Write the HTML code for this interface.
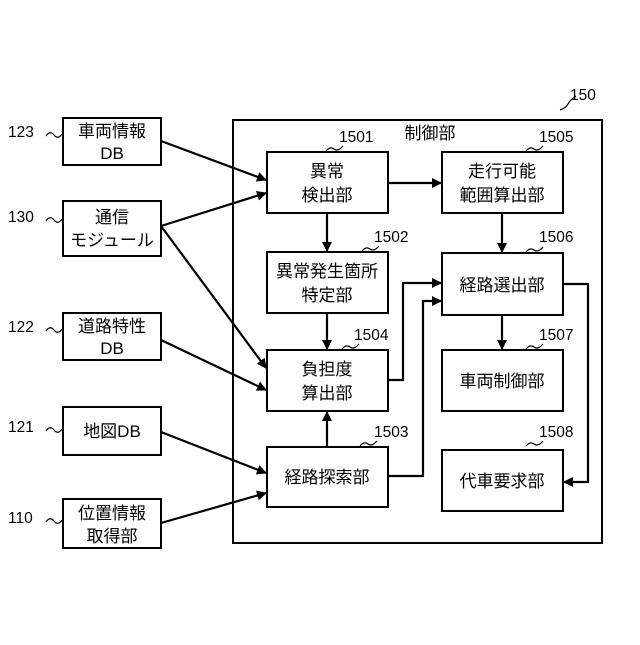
<!DOCTYPE html>
<html><head><meta charset="utf-8"><style>
body{margin:0;background:#fff}
svg text{font-family:"Liberation Sans","Noto Sans CJK JP",sans-serif;fill:#000}
</style></head><body>
<svg width="640" height="640" viewBox="0 0 640 640" xmlns="http://www.w3.org/2000/svg">
<defs><marker id="a" markerWidth="10" markerHeight="10" refX="9" refY="5" orient="auto" markerUnits="userSpaceOnUse"><path d="M0,0 L10,5 L0,10 z" fill="#000"/></marker></defs>
<g fill="none" stroke="#000" stroke-width="2">
<rect x="233" y="120" width="369" height="423"/>
<rect x="63" y="118" width="98" height="47"/>
<rect x="63" y="201" width="98" height="55"/>
<rect x="63" y="313" width="98" height="47"/>
<rect x="63" y="407" width="98" height="48"/>
<rect x="63" y="499" width="98" height="49"/>
<rect x="267" y="152" width="121" height="61"/>
<rect x="267" y="252" width="121" height="61"/>
<rect x="267" y="350" width="121" height="61"/>
<rect x="267" y="447" width="121" height="60"/>
<rect x="442" y="152" width="121" height="61"/>
<rect x="442" y="253" width="121" height="62"/>
<rect x="442" y="350" width="121" height="61"/>
<rect x="442" y="450" width="121" height="61"/>
</g>
<g fill="none" stroke="#000" stroke-width="2.2" marker-end="url(#a)">
<line x1="161" y1="141" x2="266" y2="180"/>
<line x1="161" y1="226" x2="266" y2="193"/>
<line x1="161" y1="226" x2="266" y2="368"/>
<line x1="161" y1="340" x2="266" y2="390"/>
<line x1="161" y1="432" x2="266" y2="473"/>
<line x1="161" y1="523" x2="266" y2="493"/>
<line x1="388" y1="183" x2="441" y2="183"/>
<line x1="327" y1="213" x2="327" y2="251"/>
<line x1="327" y1="313" x2="327" y2="349"/>
<line x1="327" y1="447" x2="327" y2="412"/>
<line x1="502" y1="213" x2="502" y2="252"/>
<line x1="502" y1="315" x2="502" y2="349"/>
<polyline points="388,380 403,380 403,283 441,283"/>
<polyline points="388,476 423,476 423,301 441,301"/>
<polyline points="563,284 588,284 588,482 564,482"/>
</g>
<g fill="none" stroke="#000" stroke-width="1.2">
<path d="M46,136 q4,-6 8,-1 t8,-1"/>
<path d="M46,221 q4,-6 8,-1 t8,-1"/>
<path d="M46,331 q4,-6 8,-1 t8,-1"/>
<path d="M46,431 q4,-6 8,-1 t8,-1"/>
<path d="M46,522 q4,-6 8,-1 t8,-1"/>
<path d="M560,110 q6,-2 8,-6 t8,-8"/>
<path d="M326,151 q4,-5 8,-2 t9,-3"/>
<path d="M362,251 q4,-5 8,-2 t9,-3"/>
<path d="M342,349 q4,-5 8,-2 t9,-3"/>
<path d="M360,446 q4,-5 8,-2 t9,-3"/>
<path d="M526,151 q4,-5 8,-2 t9,-3"/>
<path d="M526,252 q4,-5 8,-2 t9,-3"/>
<path d="M526,349 q4,-5 8,-2 t9,-3"/>
<path d="M526,446 q4,-5 8,-2 t9,-3"/>
</g>
<g font-size="15.5">
<text x="8" y="137">123</text>
<text x="8" y="222">130</text>
<text x="8" y="332">122</text>
<text x="8" y="432">121</text>
<text x="8" y="523">110</text>
<text x="570" y="100">150</text>
<text x="339" y="142">1501</text>
<text x="374" y="242">1502</text>
<text x="354" y="340">1504</text>
<text x="374" y="437">1503</text>
<text x="539" y="142">1505</text>
<text x="539" y="242">1506</text>
<text x="539" y="340">1507</text>
<text x="539" y="437">1508</text>
</g>
<g font-size="17" text-anchor="middle">
<text x="430" y="139">制御部</text>
<text x="112" y="137">車両情報</text><text x="112" y="159">DB</text>
<text x="112" y="223">通信</text><text x="112" y="246">モジュール</text>
<text x="112" y="332">道路特性</text><text x="112" y="354">DB</text>
<text x="112" y="437">地図DB</text>
<text x="112" y="519">位置情報</text><text x="112" y="542">取得部</text>
<text x="327" y="177">異常</text><text x="327" y="201">検出部</text>
<text x="327" y="277">異常発生箇所</text><text x="327" y="301">特定部</text>
<text x="327" y="375">負担度</text><text x="327" y="399">算出部</text>
<text x="327" y="483">経路探索部</text>
<text x="502" y="177">走行可能</text><text x="502" y="201">範囲算出部</text>
<text x="502" y="291">経路選出部</text>
<text x="502" y="387">車両制御部</text>
<text x="502" y="487">代車要求部</text>
</g>
</svg>
</body></html>
